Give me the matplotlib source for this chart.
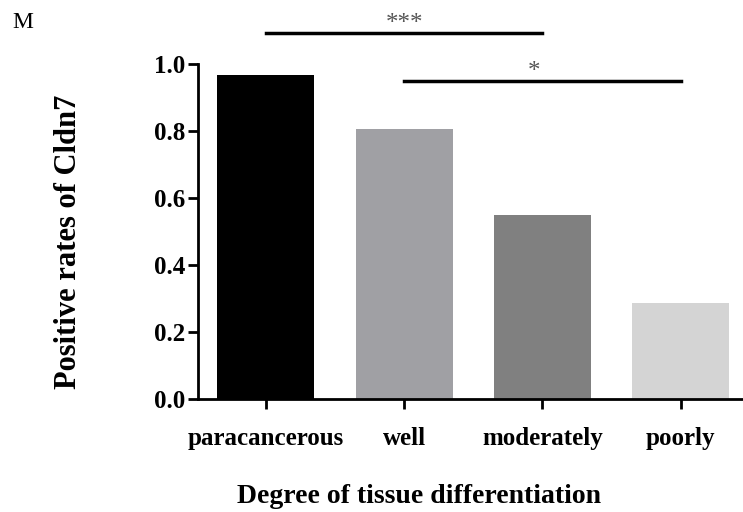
import numpy as np
import matplotlib.pyplot as plt

categories = ['paracancerous', 'well', 'moderately', 'poorly']
rates = [0.967, 0.806, 0.549, 0.287]
colors = ['#000000', '#a0a0a4', '#808080', '#d4d4d4']

plt.rcParams['font.family'] = 'Liberation Serif'

fig = plt.figure(figsize=(7.43, 5.12), dpi=100)
ax = fig.add_axes([198/743, 1-399/512, 545/743, 335/512])

x = np.arange(len(categories))
ax.bar(x, rates, width=0.7, color=colors)

ax.set_xlim(-0.49, 3.45)
ax.set_ylim(0, 1.0)
ax.set_yticks([0.0, 0.2, 0.4, 0.6, 0.8, 1.0])
ax.set_yticklabels(['0.0', '0.2', '0.4', '0.6', '0.8', '1.0'], fontweight='bold', fontsize=18)
ax.set_xticks(x)
ax.set_xticklabels(categories, fontweight='bold', fontsize=18)

for s in ['top', 'right']:
    ax.spines[s].set_visible(False)
ax.spines['left'].set_linewidth(2)
ax.spines['bottom'].set_linewidth(2)
ax.tick_params(axis='both', width=2, length=7, direction='out')
ax.tick_params(axis='x', pad=13)
ax.tick_params(axis='y', pad=2)

ax.set_ylabel('Positive rates of Cldn7', fontweight='bold', fontsize=22)
ax.yaxis.set_label_coords(-0.211, 0.469)
ax.set_xlabel('Degree of tissue differentiation', fontweight='bold', fontsize=20)
ax.xaxis.set_label_coords(0.405, -0.255)

# significance bars
ax.plot([0, 2], [1.093, 1.093], color='black', lw=2.5, clip_on=False)
ax.text(1.0, 1.118, '***', ha='center', va='center', fontsize=18, color='#555555')
ax.plot([1, 3], [0.949, 0.949], color='black', lw=2.5, clip_on=False)
ax.text(1.94, 0.975, '*', ha='center', va='center', fontsize=18, color='#555555')

fig.text(12/743, 1-22/512, 'M', fontsize=17, va='center', ha='left')

fig.savefig('out.png', dpi=100)
